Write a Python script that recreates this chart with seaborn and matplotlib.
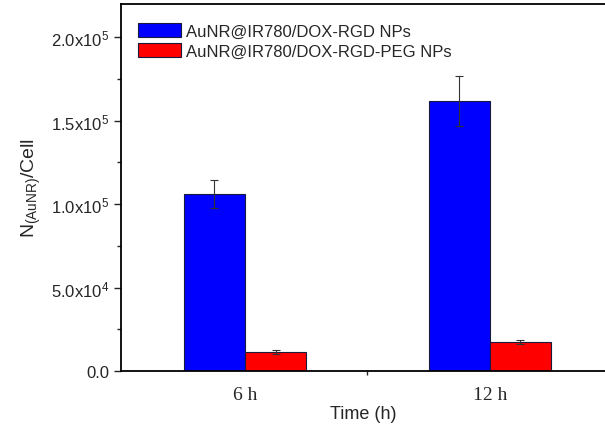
import pandas as pd
import numpy as np
import matplotlib
matplotlib.use('Agg')
import matplotlib.pyplot as plt
import seaborn as sns
from matplotlib.ticker import FuncFormatter, MultipleLocator, FixedLocator

# data
times = ['6 h', '12 h']
groups = ['AuNR@IR780/DOX-RGD NPs', 'AuNR@IR780/DOX-RGD-PEG NPs']
rgd_mean = [1.06e5, 1.62e5]
rgd_err = [8.5e3, 1.5e4]
peg_mean = [1.13e4, 1.76e4]
peg_err = [1.0e3, 1.2e3]

df = pd.DataFrame({
    'time': times * 2,
    'group': [groups[0]] * 2 + [groups[1]] * 2,
    'value': rgd_mean + peg_mean,
    'err': rgd_err + peg_err,
})

sns.set_style('ticks')
plt.rcParams['font.family'] = ['Liberation Sans', 'DejaVu Sans']

fig = plt.figure(figsize=(6.05, 4.35), dpi=100)
ax = fig.add_axes([0.2, 0.145, 0.8, 0.8435])

sns.barplot(data=df, x='time', y='value', hue='group', order=times, hue_order=groups,
            palette=['#0000ff', '#ff0000'], saturation=1, width=0.5, errorbar=None,
            edgecolor='#1a1a3a', linewidth=0.8, ax=ax)

# error bars at bar centers
for bars, g in zip(ax.containers, groups):
    sub = df[df['group'] == g].set_index('time').loc[times]
    xs = [b.get_x() + b.get_width() / 2 for b in bars]
    ax.errorbar(xs, sub['value'], yerr=sub['err'], fmt='none', ecolor='#333333',
                elinewidth=0.8, capsize=3, capthick=0.8)

ax.set_xlim(-0.506, 1.47)
ax.set_ylim(0, 2.2e5)

def sci(v, pos):
    if v <= 0:
        return '0.0'
    e = int(np.floor(np.log10(v)))
    m = v / 10 ** e
    return r'$\mathregular{%.1fx10^{%d}}$' % (m, e)

ax.yaxis.set_major_locator(MultipleLocator(5e4))
ax.yaxis.set_minor_locator(MultipleLocator(2.5e4))
ax.yaxis.set_major_formatter(FuncFormatter(sci))
ax.tick_params(axis='y', which='major', length=5, width=1, labelsize=12, direction='out')
ax.tick_params(axis='y', which='minor', length=3, width=1, direction='out')

ax.xaxis.set_minor_locator(FixedLocator([0.5]))
ax.tick_params(axis='x', which='major', length=0, pad=11)
ax.tick_params(axis='x', which='minor', length=3, width=1, direction='out')
for lab in ax.get_xticklabels():
    lab.set_fontfamily(['Liberation Serif', 'DejaVu Serif'])
    lab.set_fontsize(14)

ax.spines['right'].set_visible(False)
for s in ['left', 'bottom', 'top']:
    ax.spines[s].set_linewidth(1.3)
    ax.spines[s].set_color('black')

ax.set_xlabel('Time (h)', fontsize=13, labelpad=1)
ax.set_ylabel(r'$\mathregular{N_{(AuNR)}}$/Cell', fontsize=14, labelpad=6)

ax.legend(loc='upper left', frameon=False, fontsize=12, handlelength=2.6,
          handleheight=0.9, labelspacing=0.25, handletextpad=0.3,
          borderaxespad=0.3, bbox_to_anchor=(0.01, 0.98))

fig.savefig('out.png', dpi=100)
